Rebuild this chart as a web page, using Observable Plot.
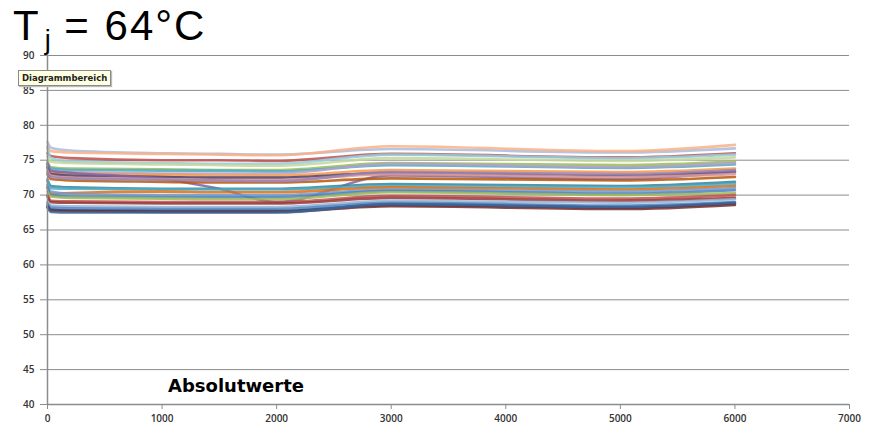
<!DOCTYPE html>
<html>
<head>
<meta charset="utf-8">
<script src="https://cdn.jsdelivr.net/npm/d3@7"></script>
<script src="https://cdn.jsdelivr.net/npm/@observablehq/plot@0.6"></script>
<style>
  html, body { margin: 0; padding: 0; background: #fff; }
  #wrap { position: relative; width: 871px; height: 427px; overflow: hidden; }
  #chart { position: absolute; left: 0; top: 0; }
  #title { position: absolute; left: 13px; top: 2px; line-height: 47px; font-family: "Liberation Sans", Arial, sans-serif; font-size: 42px; letter-spacing: 2px; color: #000; white-space: nowrap; z-index: 2; }
  #title sub { font-size: 27px; vertical-align: -9px; line-height: 0; letter-spacing: 0; margin-left: 4px; }
  #tip { position: absolute; left: 18px; top: 70px; padding: 0 3px; height: 14px; line-height: 14px; font-family: "DejaVu Sans", sans-serif; font-weight: bold; font-size: 8.5px; color: #222; background: #FFFFE1; border: 1px solid #8a8a8a; box-shadow: 1px 1px 1px #bbb; z-index: 3; white-space: nowrap; }
  #note { position: absolute; left: 168px; top: 375px; font-family: "DejaVu Sans", sans-serif; font-weight: bold; font-size: 18px; color: #000; white-space: nowrap; z-index: 2; }
</style>
</head>
<body>
<div id="wrap">
  <div id="chart"></div>
  <div id="title">T<sub>j</sub> = 64°C</div>
  <div id="tip">Diagrammbereich</div>
  <div id="note">Absolutwerte</div>
</div>
<script>
// x positions of the measurements
const xs = [0, 30, 200, 1000, 1500, 2000, 3000, 5000, 6000];
const xTicks = [0, 1000, 2000, 3000, 4000, 5000, 6000, 7000];
const yTicks = [40, 45, 50, 55, 60, 65, 70, 75, 80, 85, 90];

// series names, colours and values (one value per x position)
const seriesNames = [
  "S1","S2","S3","S4","S5","S6","S7","S8","S9","S10","S11","S12","S13","S14",
  "S15","S16","S17","S18","S19","S20","S21","S22","S23","S24","S25","S26","S27"
];
const seriesColors = [
  "#A9BBDD","#FAB086","#C0504D","#93CDDD","#C3D69B","#9BBB59","#4BACC6","#B2A1C7",
  "#F79646","#4D3B62","#8064A2","#D99694","#B65708","#9983B5","#31859C","#4BACC6",
  "#E46C0A","#729ACA","#4F81BD","#9BBB59","#C0504D","#953735","#95B3D7","#4F81BD",
  "#1F497D","#772C2A","#3A6599"
];
const seriesValues = [
  [77.6, 76.8, 76.4, 76.0, 75.9, 75.8, 76.6, 76.1, 76.7],
  [77.0, 76.3, 76.1, 75.9, 75.8, 75.7, 77.0, 76.3, 77.2],
  [76.0, 75.6, 75.3, 75.0, 75.0, 74.9, 75.9, 75.4, 76.0],
  [76.8, 75.3, 74.8, 74.6, 74.5, 74.5, 75.8, 75.3, 75.8],
  [75.5, 74.8, 74.6, 74.4, 74.3, 74.2, 75.3, 74.9, 75.4],
  [74.8, 74.0, 73.8, 73.7, 73.6, 73.6, 74.6, 74.3, 74.8],
  [74.5, 73.8, 73.6, 73.5, 73.5, 73.4, 74.3, 73.9, 74.4],
  [74.2, 73.5, 73.3, 73.1, 73.1, 73.1, 74.5, 74.0, 74.6],
  [73.8, 73.2, 73.1, 72.9, 72.8, 72.8, 73.6, 73.3, 73.8],
  [74.0, 73.0, 72.8, 72.6, 72.5, 72.5, 73.2, 72.8, 73.4],
  [74.5, 73.5, 73.2, 72.3, 70.9, 69.0, 72.8, 72.3, 73.3],
  [73.5, 72.8, 72.5, 72.3, 72.2, 72.2, 73.0, 72.6, 73.0],
  [73.0, 72.3, 72.1, 71.9, 71.8, 71.8, 72.4, 72.1, 72.6],
  [73.3, 72.6, 72.4, 72.2, 72.1, 72.0, 73.3, 73.0, 73.6],
  [72.2, 71.3, 71.1, 70.9, 70.9, 70.9, 71.6, 71.3, 71.9],
  [72.0, 71.0, 70.9, 70.8, 70.8, 70.8, 71.3, 71.1, 71.6],
  [71.0, 70.2, 70.3, 70.5, 70.4, 70.4, 71.1, 70.8, 71.3],
  [71.5, 70.5, 70.2, 70.0, 70.0, 70.0, 70.8, 70.5, 71.0],
  [71.2, 70.0, 69.8, 69.7, 69.7, 69.7, 70.6, 70.2, 70.7],
  [70.5, 69.8, 69.6, 69.5, 69.4, 69.4, 70.4, 70.0, 70.3],
  [70.0, 69.2, 69.1, 69.0, 69.0, 69.0, 69.9, 69.5, 70.0],
  [69.8, 69.0, 68.9, 68.8, 68.8, 68.8, 69.6, 69.2, 69.6],
  [69.0, 68.5, 68.4, 68.3, 68.3, 68.3, 69.2, 68.9, 69.4],
  [68.8, 68.2, 68.1, 68.0, 68.0, 68.0, 68.9, 68.5, 69.0],
  [68.5, 67.9, 67.8, 67.7, 67.7, 67.7, 68.6, 68.2, 68.8],
  [68.3, 67.8, 67.7, 67.6, 67.6, 67.6, 68.4, 68.0, 68.6],
  [68.2, 67.6, 67.5, 67.5, 67.5, 67.5, 68.7, 68.3, 68.9]
];

const rows = [];
seriesNames.forEach((name, i) => {
  seriesValues[i].forEach((v, j) => {
    rows.push({series: name, color: seriesColors[i], x: xs[j], y: v});
  });
});

const chart = Plot.plot({
  width: 871,
  height: 427,
  marginLeft: 47,
  marginRight: 22,
  marginTop: 55,
  marginBottom: 23,
  style: {fontFamily: "'Open Sans', sans-serif", fontSize: "10px", color: "#404040", background: "transparent"},
  x: {domain: [0, 7000], ticks: xTicks, tickSize: 5, tickPadding: 5, label: null, tickFormat: d => String(d)},
  y: {domain: [40, 90], ticks: yTicks, tickSize: 7, tickPadding: 6, label: null},
  color: {type: "identity"},
  marks: [
    Plot.ruleY(yTicks.filter(t => t > 40), {stroke: "#8c8c8c", strokeWidth: 1}),
    Plot.axisX({ticks: xTicks, tickSize: 5, tickPadding: 5, stroke: "#8c8c8c", fill: "#333", fontWeight: 600, tickFormat: d => String(d), label: null}),
    Plot.axisY({ticks: yTicks, tickSize: 7, tickPadding: 6, stroke: "#8c8c8c", fill: "#333", fontWeight: 600, label: null}),
    Plot.line(rows, {x: "x", y: "y", z: "series", stroke: "color", strokeWidth: 2.6, strokeOpacity: 0.85, curve: "monotone-x"}),
    Plot.ruleX([0], {stroke: "#8c8c8c", strokeWidth: 1.5}),
    Plot.ruleY([40], {stroke: "#8c8c8c", strokeWidth: 1.5})
  ]
});
document.getElementById("chart").appendChild(chart);
</script>
</body>
</html>
